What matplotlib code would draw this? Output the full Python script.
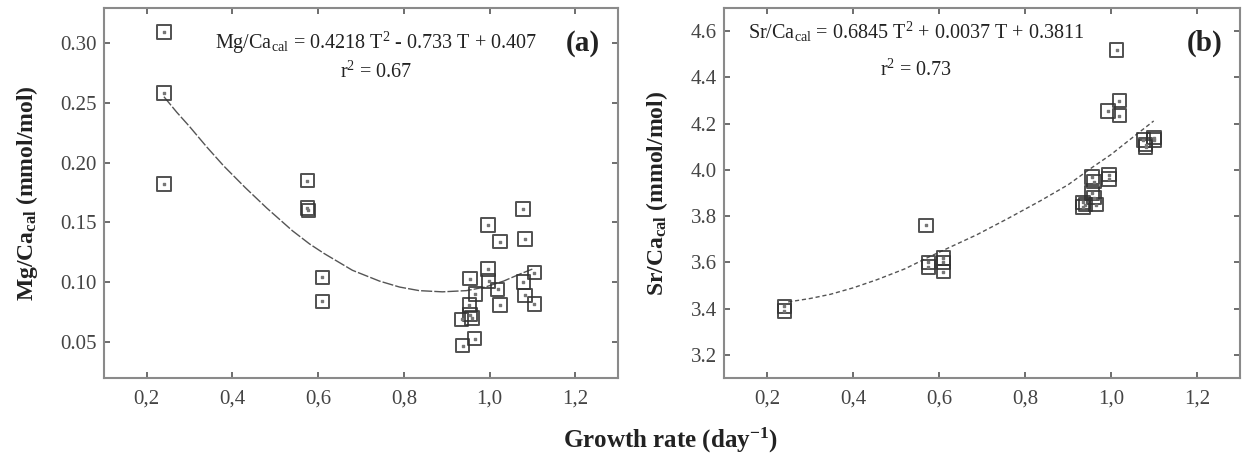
import matplotlib
matplotlib.use("Agg")
import matplotlib.pyplot as plt

plt.rcParams['font.family'] = ['Liberation Serif', 'DejaVu Serif']
plt.rcParams['mathtext.fontset'] = 'custom'
plt.rcParams['mathtext.rm'] = 'Liberation Serif'
plt.rcParams['mathtext.it'] = 'Liberation Serif'
plt.rcParams['mathtext.bf'] = 'Liberation Serif:bold'

# (a) Mg/Ca vs growth rate
mg_x = [0.24, 0.24, 0.24, 0.575, 0.575, 0.577, 0.61, 0.61,
        1.078, 0.996, 1.025, 1.083, 0.996, 0.955, 0.998, 1.105, 1.079, 1.019,
        0.967, 1.083, 1.105, 1.025, 0.953, 0.955, 0.935, 0.959, 0.965, 0.937]
mg_y = [0.309, 0.258, 0.182, 0.185, 0.162, 0.160, 0.104, 0.084,
        0.161, 0.148, 0.134, 0.136, 0.111, 0.103, 0.101, 0.108, 0.100, 0.094,
        0.090, 0.089, 0.082, 0.081, 0.081, 0.073, 0.069, 0.070, 0.053, 0.047]
# fitted curve
mg_fit_x = [0.24, 0.27, 0.30, 0.34, 0.38, 0.43, 0.48, 0.54, 0.58, 0.614, 0.68,
            0.743, 0.79, 0.836, 0.89, 0.946, 0.99, 1.033, 1.072, 1.10]
mg_fit_y = [0.255, 0.242, 0.230, 0.213, 0.197, 0.179, 0.162, 0.143, 0.132, 0.124, 0.110,
            0.101, 0.096, 0.093, 0.092, 0.093, 0.096, 0.101, 0.107, 0.111]

# (b) Sr/Ca vs growth rate
sr_x = [0.24, 0.24, 0.57, 0.575, 0.575, 0.61, 0.61, 0.61,
        0.935, 0.935, 0.94, 0.96, 0.965, 0.955, 0.955, 0.96, 0.995, 0.995,
        0.993, 1.019, 1.019, 1.013, 1.075, 1.08, 1.08, 1.10, 1.10]
sr_y = [3.41, 3.39, 3.76, 3.60, 3.58, 3.62, 3.60, 3.56,
        3.86, 3.84, 3.85, 3.88, 3.85, 3.97, 3.90, 3.95, 3.98, 3.96,
        4.255, 4.30, 4.235, 4.52, 4.13, 4.11, 4.10, 4.14, 4.13]
sr_fit_x = [0.249, 0.30, 0.347, 0.40, 0.455, 0.52, 0.578, 0.63, 0.688, 0.76,
            0.836, 0.90, 0.956, 1.00, 1.040, 1.099]
sr_fit_y = [3.429, 3.444, 3.462, 3.490, 3.525, 3.572, 3.625, 3.670, 3.72, 3.790,
            3.867, 3.936, 4.011, 4.067, 4.126, 4.212]

xticks = [0.2, 0.4, 0.6, 0.8, 1.0, 1.2]
xticklabels = ['0,2', '0,4', '0,6', '0,8', '1,0', '1,2']
mg_ticks = [0.05, 0.10, 0.15, 0.20, 0.25, 0.30]
sr_ticks = [3.2, 3.4, 3.6, 3.8, 4.0, 4.2, 4.4, 4.6]

fig = plt.figure(figsize=(12.42, 4.70), dpi=100)
ax1 = fig.add_axes([0.0837, 0.1957, 0.4139, 0.787])
ax2 = fig.add_axes([0.583, 0.1957, 0.4155, 0.787])

spine_col = '#8a8a8a'
text_col = '#222222'


def style(ax):
    for s in ax.spines.values():
        s.set_color(spine_col)
        s.set_linewidth(1.5)
    ax.tick_params(direction='in', length=4, width=1.2, color='#555555',
                   top=True, right=True, labelsize=15, labelcolor='#444444')
    ax.tick_params(axis='x', pad=8)
    ax.tick_params(axis='y', pad=5)
    ax.set_xlim(0.1, 1.3)
    ax.set_xticks(xticks)
    ax.set_xticklabels(xticklabels)


def points(ax, x, y):
    ax.scatter(x, y, s=95, marker='s', facecolors='none',
               edgecolors='#333333', linewidths=1.4, alpha=0.85, zorder=3)
    ax.scatter(x, y, s=3, marker='s', color='#777777', zorder=4)


style(ax1)
points(ax1, mg_x, mg_y)
ax1.plot(mg_fit_x, mg_fit_y, color='#555555', lw=1.0, ls=(0, (8, 1.5)), zorder=2)
ax1.set_ylim(0.02, 0.329)
ax1.set_yticks(mg_ticks)
ax1.set_yticklabels(['0.05', '0.10', '0.15', '0.20', '0.25', '0.30'])
ax1.set_ylabel('Mg/Ca$_{\\mathbf{cal}}$ (mmol/mol)', fontsize=17, fontweight='bold',
               color=text_col, labelpad=15)
ax1.text(0.53, 0.905, 'Mg/Ca$_{cal}$ = 0.4218 T$^2$ - 0.733 T + 0.407',
         transform=ax1.transAxes, ha='center', va='center', fontsize=14.5, color=text_col)
ax1.text(0.53, 0.827, 'r$^2$ = 0.67', transform=ax1.transAxes, ha='center',
         va='center', fontsize=14.5, color=text_col)
ax1.text(0.932, 0.905, '(a)', transform=ax1.transAxes, ha='center', va='center',
         fontsize=21, fontweight='bold', color=text_col)

style(ax2)
points(ax2, sr_x, sr_y)
ax2.plot(sr_fit_x, sr_fit_y, color='#555555', lw=1.0, ls=(0, (3, 2)), zorder=2)
ax2.set_ylim(3.1, 4.7)
ax2.set_yticks(sr_ticks)
ax2.set_yticklabels(['3.2', '3.4', '3.6', '3.8', '4.0', '4.2', '4.4', '4.6'])
ax2.set_ylabel('Sr/Ca$_{\\mathbf{cal}}$ (mmol/mol)', fontsize=17, fontweight='bold',
               color=text_col, labelpad=15)
ax2.text(0.372, 0.937, 'Sr/Ca$_{cal}$ = 0.6845 T$^2$ + 0.0037 T + 0.3811',
         transform=ax2.transAxes, ha='center', va='center', fontsize=14.5, color=text_col)
ax2.text(0.372, 0.832, 'r$^2$ = 0.73', transform=ax2.transAxes, ha='center',
         va='center', fontsize=14.5, color=text_col)
ax2.text(0.932, 0.905, '(b)', transform=ax2.transAxes, ha='center', va='center',
         fontsize=21, fontweight='bold', color=text_col)

fig.text(0.54, 1 - 440 / 470, 'Growth rate (day$^{\\mathbf{-1}}$)', ha='center',
         va='center', fontsize=18, fontweight='bold', color=text_col)

fig.savefig('out.png', dpi=100)
